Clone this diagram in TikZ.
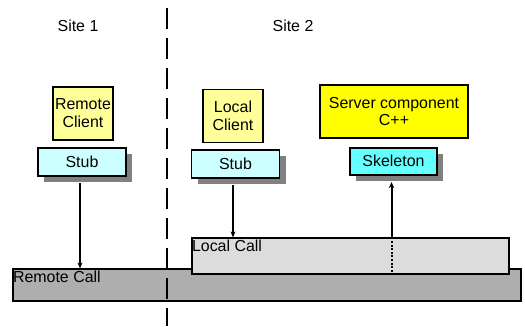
\documentclass[tikz,border=0pt]{standalone}
\usepackage{fontspec}
\setmainfont{Liberation Sans}
\usetikzlibrary{arrows.meta, positioning, shadows}
\definecolor{clientYellow}{HTML}{FFFF99}
\definecolor{serverYellow}{HTML}{FFFF00}
\definecolor{stubCyan}{HTML}{CCFFFF}
\definecolor{skelCyan}{HTML}{66FFFF}
\definecolor{localGray}{HTML}{DCDCDC}
\definecolor{remoteGray}{HTML}{AEAEAE}
\definecolor{shadowGray}{HTML}{808080}
\tikzset{
  arrowT/.style={-{Stealth[length=6bp, width=5bp]}, line width=1.3bp},
  arrowK/.style={-{Stealth[length=6bp, width=5.5bp]}, line width=2bp},
  dotline/.style={line width=2bp, dash pattern=on 2bp off 1.6bp},
  siteline/.style={line width=2.6bp, dash pattern=on 21bp off 9bp},
  clientbox/.style={rectangle, draw, line width=1.4bp, fill=clientYellow,
                    align=center, inner xsep=1bp, minimum width=60bp, minimum height=53bp},
  serverbox/.style={rectangle, draw, line width=1.4bp, fill=serverYellow,
                    align=center, minimum width=148bp, minimum height=53bp},
  stubbox/.style={rectangle, draw, line width=1.9bp, fill=stubCyan,
                  minimum width=88bp, minimum height=28bp,
                  drop shadow={shadow xshift=6bp, shadow yshift=-6bp,
                               fill=shadowGray, opacity=1}},
  callbox/.style={rectangle, draw, line width=1.3bp, inner sep=0pt},
  calllabel/.style={anchor=north west, inner xsep=0.5bp, inner ysep=2.5bp},
}

\begin{document}
\begin{tikzpicture}[x=1bp, y=-1bp, font=\fontsize{16}{18}\selectfont]
    \useasboundingbox (0,0) rectangle (525,326);
    % the two call layers
    \node[callbox, fill=remoteGray, minimum width=508bp, minimum height=32bp] (rcall) at (267,285) {};
    \node[calllabel] (rlbl) at (rcall.north west) {Remote Call};
    \node[callbox, fill=localGray, minimum width=317bp, minimum height=36bp] (lcall) at (350.5,256) {};
    \node[calllabel] (llbl) at (lcall.north west) {Local Call};
    % border between the sites
    \coordinate (top) at (167,8);
    \coordinate (bot) at (167,326);
    \draw[siteline] (top) -- (bot);
    \node (s1) at (78,26) {Site 1};
    \node (s2) at (293,26) {Site 2};
    % clients, server and their proxies
    \node[clientbox] (rc) at (83,113.5) {Remote\\Client};
    \node[stubbox, below=6bp of rc, xshift=-1bp] (stub1) {Stub};
    \node[clientbox] (lc) at (233,116) {Local\\Client};
    \node[stubbox, below=6bp of lc, xshift=2.5bp] (stub2) {Stub};
    \node[serverbox] (srv) at (394,111.5) {Server component\\C++};
    \node[stubbox, fill=skelCyan, below=8bp of srv, xshift=-0.5bp, minimum width=87bp, minimum height=27bp] (skel) {Skeleton};
    % calls
    \draw[arrowT, shorten <=6bp] ([xshift=-2bp]stub1.south) -- ([xshift=-2bp]stub1.south |- rcall.north);
    \draw[arrowT, shorten <=6bp] ([xshift=-2.5bp]stub2.south) -- ([xshift=-2.5bp]stub2.south |- lcall.north);
    \draw[arrowK, shorten >=6.5bp] ([xshift=-2bp]skel.south |- lcall.north) -- ([xshift=-2bp]skel.south);
    \draw[dotline] ([xshift=-2bp]skel.south |- lcall.north) -- ([xshift=-2bp]skel.south |- lcall.south);
\end{tikzpicture}
\end{document}
